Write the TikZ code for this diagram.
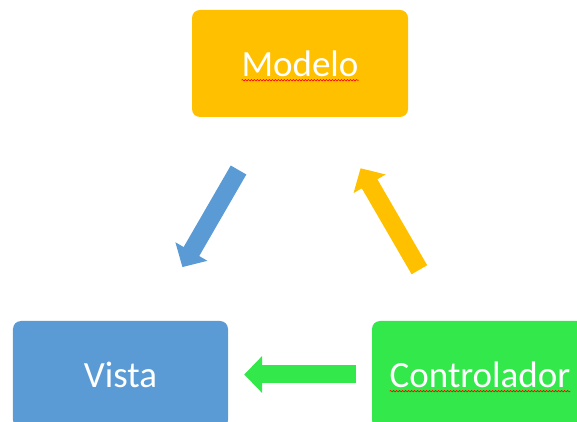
\documentclass[tikz,border=0pt]{standalone}
\usepackage{fontspec}
\setmainfont{Carlito}
\usepackage{tikz}
\usetikzlibrary{matrix,arrows.meta,calc,decorations.pathmorphing}
\definecolor{modelo}{HTML}{FFC000}
\definecolor{vista}{HTML}{5B9BD5}
\definecolor{controlador}{HTML}{33E84A}
\tikzset{
	caja/.style={rounded corners=8pt, minimum width=216pt, minimum height=107pt, inner sep=0pt,
		text=white, font=\fontsize{37}{40}\selectfont, anchor=center},
	flecha/.style={line width=18pt, -{Triangle[length=18pt,width=36pt]}},
	subrayado/.style={draw=red, line width=0.6pt, decorate,
		decoration={snake, amplitude=0.7pt, segment length=3pt}}
}

\begin{document}
\begin{tikzpicture}[x=1pt,y=1pt]
			\useasboundingbox (0,0) rectangle (577,422);
			\clip (0,0) rectangle (577,422);
			\matrix (mvc) at (300.5,203) [matrix of nodes, row sep=204pt, column sep=-36pt, nodes={caja}]
			{
				& |[fill=modelo]| Modelo & \\
				|[fill=vista, minimum width=215pt]| Vista & & |[fill=controlador]| Controlador \\
			};
			\path
			(mvc-1-2) edge[flecha, draw=vista, shorten <=61pt, shorten >=62pt] (mvc-2-1)
			(mvc-2-3) edge[flecha, draw=controlador, shorten <=16pt, shorten >=16pt] (mvc-2-1)
					edge[flecha, draw=modelo, shorten <=59pt, shorten >=59pt] (mvc-1-2);
			% marcas de ortografia
			\coordinate (fin-m) at ($(mvc-1-2.center)!-1!(mvc-1-2.text)$);
			\coordinate (fin-c) at ($(mvc-2-3.center)!-1!(mvc-2-3.text)$);
			\path[subrayado] ([yshift=-4pt]mvc-1-2.text) -- ([yshift=-4pt]mvc-1-2.text -| fin-m);
			\path[subrayado] ([yshift=-4pt]mvc-2-3.text) -- ([yshift=-4pt]mvc-2-3.text -| fin-c);
		\end{tikzpicture}
\end{document}
